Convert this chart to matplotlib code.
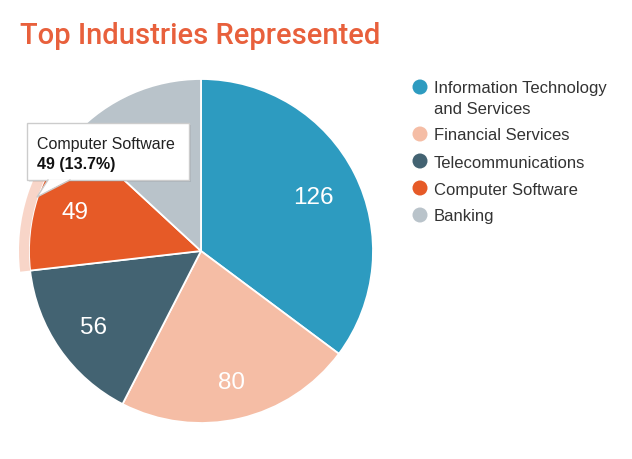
import matplotlib
matplotlib.use("Agg")
from matplotlib import pyplot as plt
from matplotlib.patches import Wedge, Rectangle, Polygon, Circle

# data
industries = ["Information Technology\nand Services", "Financial Services",
              "Telecommunications", "Computer Software", "Banking"]
counts = [126, 80, 56, 49, 47]
colors = ["#2d9bc0", "#f5bda5", "#436372", "#e65a27", "#b9c3ca"]

W, H = 632, 460
fig = plt.figure(figsize=(W / 100, H / 100), dpi=100)
ax = fig.add_axes([0, 0, 1, 1])

cx, cy, r = 201, H - 252, 172

wedges, _ = ax.pie(counts, colors=colors, startangle=90, counterclock=False,
                   center=(cx, cy), radius=r, frame=True,
                   wedgeprops=dict(edgecolor="white", linewidth=1.3))
ax.set_xlim(0, W)
ax.set_ylim(0, H)
ax.set_aspect("equal")
ax.axis("off")

# hover halo on Computer Software slice
hov = wedges[3]
ax.add_patch(Wedge((cx, cy), r + 10, hov.theta1, hov.theta2, width=10,
                   facecolor="#e65a27", alpha=0.25, edgecolor="none"))

# value labels (the Banking one sits under the tooltip, as in the original)
label_pos = [(313, 198), (231, 383), (93, 328), (75, 213), (151, 136)]
for (x, y), v in zip(label_pos, counts):
    ax.text(x, H - y, str(v), color="white", fontsize=17.5, ha="center",
            va="center", family="Liberation Sans")

# tooltip
bx0, by0, bx1, by1 = 27, 124, 189, 181
ax.add_patch(Rectangle((bx0 + 2, H - by1 - 2), bx1 - bx0, by1 - by0,
                       facecolor="#000000", alpha=0.08, edgecolor="none", zorder=5))
ax.add_patch(Rectangle((bx0, H - by1), bx1 - bx0, by1 - by0,
                       facecolor="white", edgecolor="#cccccc", linewidth=1, zorder=6))
ax.add_patch(Polygon([(48, H - by1 + 0.5), (70, H - by1 + 0.5), (37, H - 198)],
                     closed=True, facecolor="white", edgecolor="none", zorder=7))
ax.plot([48, 37, 70], [H - by1, H - 198, H - by1], color="#cccccc", lw=1, zorder=7)
ax.text(37, H - 144, "Computer Software", fontsize=11.5, color="#222222",
        va="center", family="Liberation Sans", zorder=8)
ax.text(37, H - 164, "49 (13.7%)", fontsize=11.5, color="#111111",
        va="center", fontweight="bold", family="Liberation Sans", zorder=8)

# legend
leg_y = [88, 135, 162, 189, 216]
for y, name, c in zip(leg_y, industries, colors):
    ax.add_patch(Circle((420, H - y), 7.5, facecolor=c, edgecolor="none"))
    first = name.split("\n")[0]
    ax.text(434, H - y - 1, first, fontsize=12, color="#333333", va="center",
            family="Liberation Sans")
    if "\n" in name:
        ax.text(434, H - y - 21, name.split("\n")[1], fontsize=12,
                color="#333333", va="center", family="Liberation Sans")

# title
ax.text(20, H - 36, "Top Industries Represented", fontsize=21,
        color="#e8603c", va="center", ha="left", family="Roboto",
        fontweight="medium")

plt.savefig("out.png", dpi=100)
